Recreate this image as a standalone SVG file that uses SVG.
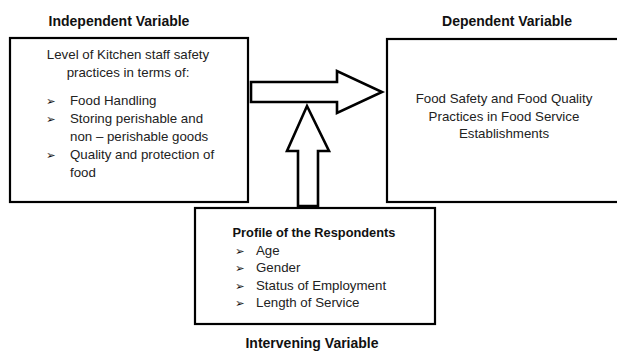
<svg xmlns="http://www.w3.org/2000/svg" width="617" height="351" viewBox="0 0 617 351">
<style>
.box{fill:#fff;stroke:#000;stroke-width:2.2}
.arr{fill:#fff;stroke:#000;stroke-width:2.6;stroke-linejoin:miter}
.t{font-family:"Liberation Sans",Arial,sans-serif;font-size:13.3px;fill:#222}
.h{font-family:"Liberation Sans",Arial,sans-serif;font-size:14px;font-weight:bold;fill:#111}
.b{font-family:"DejaVu Sans",sans-serif;font-size:11.5px;fill:#111}
</style>
<rect width="617" height="351" fill="#fff"/>
<g id="independent">
<text class="h" x="119" y="26" text-anchor="middle">Independent Variable</text>
<rect class="box" x="10" y="38" width="238" height="164"/>
<text class="t" x="128" y="59" text-anchor="middle">Level of Kitchen staff safety</text>
<text class="t" x="128" y="77" text-anchor="middle">practices in terms of:</text>
<text class="b" x="46" y="105">➢</text>
<text class="t" x="70" y="105">Food Handling</text>
<text class="b" x="46" y="123">➢</text>
<text class="t" x="70" y="123">Storing perishable and</text>
<text class="t" x="70" y="141">non – perishable goods</text>
<text class="b" x="46" y="159">➢</text>
<text class="t" x="70" y="159">Quality and protection of</text>
<text class="t" x="70" y="177">food</text>
</g>
<g id="dependent">
<text class="h" x="507" y="26" text-anchor="middle">Dependent Variable</text>
<rect class="box" x="387" y="39" width="240" height="163"/>
<text class="t" x="504" y="103" text-anchor="middle">Food Safety and Food Quality</text>
<text class="t" x="504" y="121" text-anchor="middle">Practices in Food Service</text>
<text class="t" x="504" y="138" text-anchor="middle">Establishments</text>
</g>
<g id="intervening">
<rect class="box" x="195" y="208" width="240" height="116"/>
<text class="h" x="314" y="237" text-anchor="middle" style="font-size:12.8px">Profile of the Respondents</text>
<text class="b" x="235" y="255">➢</text>
<text class="t" x="256" y="255">Age</text>
<text class="b" x="235" y="272">➢</text>
<text class="t" x="256" y="272">Gender</text>
<text class="b" x="235" y="290">➢</text>
<text class="t" x="256" y="290">Status of Employment</text>
<text class="b" x="235" y="307">➢</text>
<text class="t" x="256" y="307">Length of Service</text>
<text class="h" x="312" y="348" text-anchor="middle">Intervening Variable</text>
</g>
<g id="connectors">
<polygon class="arr" points="251,82 337,82 337,71 382,92 337,113 337,102 251,102"/>
<polygon class="arr" points="298,206 298,151 287,151 307,106 329,151 318,151 318,206"/>
</g>
</svg>
